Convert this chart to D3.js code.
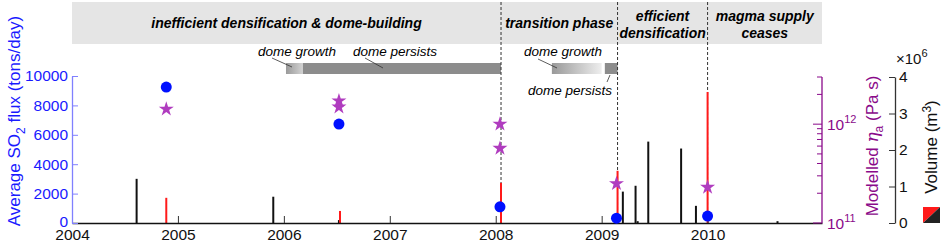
<!DOCTYPE html>
<html>
<head>
<meta charset="utf-8">
<script src="https://cdn.jsdelivr.net/npm/d3@7"></script>
<style>
body{margin:0;background:#fff;}
text{font-family:"Liberation Sans",Arial,sans-serif;}
</style>
</head>
<body>
<div id="chart"></div>
<script>
// data
var years=[2004,2005,2006,2007,2008,2009,2010];
var so2Dates=[2004.89,2006.52,2008.04,2009.14,2010.0];
var so2Flux=[9250,6730,1100,330,470];
var viscDates=[2004.89,2006.52,2006.52,2008.04,2008.04,2009.14,2010.0];
var viscVals=[1.42e12,1.72e12,1.49e12,1.0e12,5.7e11,2.5e11,2.3e11];
var blackDates=[2004.61,2005.90,2006.52,2009.20,2009.32,2009.34,2009.44,2009.75,2009.89,2010.66];
var blackVols=[1.21e6,0.72e6,0.08e6,0.86e6,1.02e6,0.05e6,2.23e6,2.04e6,0.47e6,0.05e6];
var redDates=[2004.89,2006.53,2008.05,2009.15,2010.0];
var redVols=[0.69e6,0.33e6,1.1e6,1.43e6,3.59e6];
var phaseStart=[2004,2008.05,2009.15,2010.0];
var phaseEnd=[2008.05,2009.15,2010.0,2011.08];
var phaseNames=[["inefficient densification & dome-building"],["transition phase"],["efficient","densification"],["magma supply","ceases"]];
var domeGrowth=[[2006.02,2006.18],[2008.53,2009.0]];
var domePersist=[[2006.18,2008.05],[2009.03,2009.15]];
var so2Ticks=[0,2000,4000,6000,8000,10000];
var volTicks=[0,1,2,3,4];

var W=941,H=243;
var svg=d3.select("#chart").append("svg").attr("width",W).attr("height",H);

var x=d3.scaleLinear().domain([2004,2011.08]).range([72,822]);
var ySO2=d3.scaleLinear().domain([0,10000]).range([223,76]);
var yVisc=d3.scaleLog().domain([1e11,3e12]).range([223,77]);
var yVol=d3.scaleLinear().domain([0,4e6]).range([223,77]);

var blue="#1a1aff",purple="#8a0a8a",starCol="#b03cbf";

// phase band
svg.append("rect").attr("x",x(2004)).attr("y",2).attr("width",x(2011.08)-x(2004)).attr("height",42).style("fill","#e5e5e5");
phaseNames.forEach(function(lines,i){
    var cx=(x(phaseStart[i])+x(phaseEnd[i]))/2;
    var y0=lines.length==1?28:21;
    lines.forEach(function(l,j){
        svg.append("text").attr("x",cx).attr("y",y0+j*17).attr("text-anchor","middle")
        .style("font-size","14px").style("font-weight","bold").style("font-style","italic").text(l);
    });
});

// dome bars
var defs=svg.append("defs");
var grads=[["#9a9a9a","#d2d2d2"],["#999999","#eeeeee"]];
domeGrowth.forEach(function(d,i){
    var g=defs.append("linearGradient").attr("id","g"+i);
    g.append("stop").attr("offset","0").attr("stop-color",grads[i][0]);
    g.append("stop").attr("offset","1").attr("stop-color",grads[i][1]);
    svg.append("rect").attr("x",x(d[0])).attr("y",63).attr("width",x(d[1])-x(d[0])).attr("height",11).style("fill","url(#g"+i+")");
});
domePersist.forEach(function(d){
    svg.append("rect").attr("x",x(d[0])).attr("y",63).attr("width",x(d[1])-x(d[0])).attr("height",11).style("fill","#8c8c8c");
});
var domeLabels=[["dome growth",297,56],["dome persists",395,56],["dome growth",563,56],["dome persists",570,95]];
domeLabels.forEach(function(d){
    svg.append("text").attr("x",d[1]).attr("y",d[2]).attr("text-anchor","middle")
    .style("font-size","13.5px").style("font-style","italic").text(d[0]);
});
var leaders=[[272,58,292,67],[365,58,383,68],[538,59,557,68],[610,75,607,82]];
leaders.forEach(function(l){
    svg.append("line").attr("x1",l[0]).attr("y1",l[1]).attr("x2",l[2]).attr("y2",l[3]).style("stroke","#333").style("stroke-width",0.8);
});

// dashed phase boundaries
svg.selectAll(".dash").data(phaseStart.slice(1)).enter().append("line")
.attr("x1",function(d){return x(d);}).attr("x2",function(d){return x(d);})
.attr("y1",2).attr("y2",223).style("stroke","#333").style("stroke-width",1).style("stroke-dasharray","3,2");

// volume bars
svg.selectAll(".bk").data(blackDates).enter().append("line")
.attr("x1",function(d){return x(d);}).attr("x2",function(d){return x(d);})
.attr("y1",yVol(0)).attr("y2",function(d,i){return yVol(blackVols[i]);})
.style("stroke","#111").style("stroke-width",2);
svg.selectAll(".rd").data(redDates).enter().append("line")
.attr("x1",function(d){return x(d);}).attr("x2",function(d){return x(d);})
.attr("y1",yVol(0)).attr("y2",function(d,i){return yVol(redVols[i]);})
.style("stroke","#ff1a1a").style("stroke-width",2);

// x axis
var xAxis=d3.axisBottom(x).tickValues(years).tickFormat(d3.format("d")).tickSizeInner(-7).tickSizeOuter(0).tickPadding(6);
var gx=svg.append("g").attr("transform","translate(0,223)").call(xAxis);
gx.select(".domain").style("stroke","#111").style("stroke-width",1.3);
gx.selectAll(".tick line").style("stroke","#333");
gx.selectAll("text").style("font-size","15.5px").style("fill","#111").attr("font-family",null);

// left axis
var gl=svg.append("g").attr("transform","translate(72,0)")
.call(d3.axisLeft(ySO2).tickValues(so2Ticks).tickFormat(d3.format("d")).tickSizeInner(-6).tickSizeOuter(0).tickPadding(4));
gl.select(".domain").style("stroke","#8080ff").style("stroke-width",1.3);
gl.selectAll(".tick line").style("stroke","#8080ff");
gl.selectAll("text").style("font-size","15.5px").style("fill",blue).attr("font-family",null);
gl.selectAll(".tick").filter(function(d){return d==0;}).select("text").attr("dy","0.22em");

var yl=svg.append("text").attr("transform","translate(20,121) rotate(-90)").attr("text-anchor","middle")
.style("font-size","17px").style("fill",blue);
yl.append("tspan").text("Average SO");
yl.append("tspan").attr("dy",5).style("font-size","12px").text("2");
yl.append("tspan").attr("dy",-5).text(" flux (tons/day)");

// viscosity axis
var logTicks=[2e11,3e11,4e11,5e11,6e11,7e11,8e11,9e11,2e12,3e12];
var gv=svg.append("g").attr("transform","translate(822,0)");
gv.append("line").attr("x1",0).attr("x2",0).attr("y1",yVisc(1e11)).attr("y2",yVisc(3e12)).style("stroke",purple).style("stroke-width",1.3);
gv.selectAll(".mt").data(logTicks).enter().append("line")
.attr("x1",-5).attr("x2",0).attr("y1",function(d){return yVisc(d);}).attr("y2",function(d){return yVisc(d);})
.style("stroke",purple);
gv.selectAll(".Mt").data([1e11,1e12]).enter().append("line")
.attr("x1",-9).attr("x2",0).attr("y1",function(d){return yVisc(d);}).attr("y2",function(d){return yVisc(d);})
.style("stroke",purple);
[[1e11,"11"],[1e12,"12"]].forEach(function(t){
    var tx=gv.append("text").attr("x",5).attr("y",yVisc(t[0])+6).style("font-size","15.5px").style("fill",purple);
    tx.append("tspan").text("10");
    tx.append("tspan").attr("dy",-7).style("font-size","11px").text(t[1]);
});
var vl=svg.append("text").attr("transform","translate(878,146) rotate(-90)").attr("text-anchor","middle")
.style("font-size","17px").style("fill",purple);
vl.append("tspan").text("Modelled ");
vl.append("tspan").style("font-style","italic").style("font-family","'DejaVu Serif',serif").text("η");
vl.append("tspan").attr("dy",5).style("font-size","12px").text("a");
vl.append("tspan").attr("dy",-5).text(" (Pa s)");

// volume axis
var gr=svg.append("g").attr("transform","translate(895,0)")
.call(d3.axisRight(yVol).tickValues(volTicks.map(function(d){return d*1e6;})).tickFormat(function(d){return d/1e6;}).tickSizeInner(-6).tickSizeOuter(0).tickPadding(4));
gr.select(".domain").style("stroke","#333").style("stroke-width",1.3);
gr.selectAll(".tick line").style("stroke","#333");
gr.selectAll("text").style("font-size","15.5px").style("fill","#111").attr("font-family",null);
var ex=svg.append("text").attr("x",896).attr("y",64).style("font-size","15px").style("fill","#111");
ex.append("tspan").text("\u00d710");
ex.append("tspan").attr("dy",-7).style("font-size","11px").text("6");
var vol=svg.append("text").attr("transform","translate(937,147) rotate(-90)").attr("text-anchor","middle")
.style("font-size","17px").style("fill","#111");
vol.append("tspan").text("Volume (m");
vol.append("tspan").attr("dy",-6).style("font-size","12px").text("3");
vol.append("tspan").attr("dy",6).text(")");

// legend square
svg.append("path").attr("d","M923,207 L940,207 L923,223 Z").style("fill","#ff1a1a");
svg.append("path").attr("d","M940,207 L940,223 L923,223 Z").style("fill","#222");

// SO2 circles
svg.selectAll(".so2").data(so2Dates).enter().append("circle")
.attr("cx",function(d){return x(d);}).attr("cy",function(d,i){return ySO2(so2Flux[i]);})
.attr("r",5.5).style("fill","#0010ff");

// viscosity stars
svg.selectAll(".st").data(viscDates).enter().append("path")
.attr("d",d3.symbol().type(d3.symbolStar).size(70))
.attr("transform",function(d,i){return "translate("+x(d)+","+yVisc(viscVals[i])+")";})
.style("fill",starCol);
</script>
</body>
</html>
